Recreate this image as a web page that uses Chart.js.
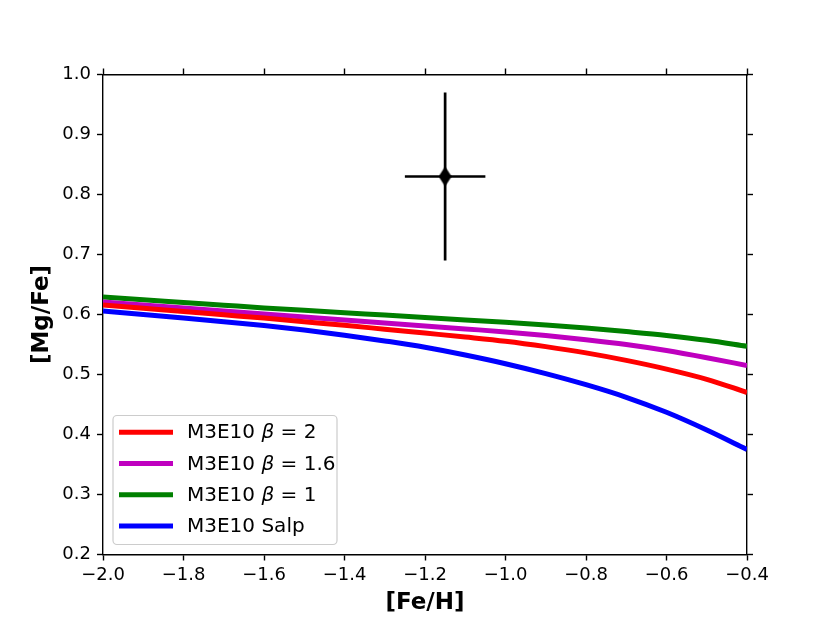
<!DOCTYPE html>
<html>
<head>
<meta charset="utf-8">
<title>[Mg/Fe] vs [Fe/H]</title>
<script src="https://cdn.jsdelivr.net/npm/chart.js@4.4.1/dist/chart.umd.min.js"></script>
<style>
  html, body { margin: 0; padding: 0; background: #fff; }
  canvas { display: block; }
</style>
</head>
<body>
<canvas id="mgfe" width="830" height="623"></canvas>
<script>
// [Fe/H] grid shared by the four model tracks
var feH = [-2.0, -1.9, -1.8, -1.7, -1.6, -1.5, -1.4, -1.3, -1.2, -1.1, -1.0, -0.9, -0.8, -0.7, -0.6, -0.5, -0.4];

// [Mg/Fe] of each model
var beta2  = [0.616, 0.6105, 0.605, 0.5995, 0.594, 0.588, 0.582, 0.5755, 0.569, 0.5625, 0.5555, 0.5465, 0.536, 0.5235, 0.509, 0.492, 0.470];
var beta16 = [0.621, 0.616, 0.611, 0.606, 0.601, 0.596, 0.591, 0.586, 0.581, 0.576, 0.571, 0.565, 0.558, 0.550, 0.540, 0.528, 0.515];
var beta1  = [0.629, 0.6245, 0.620, 0.6155, 0.611, 0.607, 0.603, 0.599, 0.595, 0.591, 0.587, 0.5825, 0.5775, 0.5715, 0.565, 0.557, 0.547];
var salp   = [0.606, 0.600, 0.594, 0.588, 0.5815, 0.574, 0.5655, 0.556, 0.5455, 0.5325, 0.518, 0.5015, 0.483, 0.462, 0.437, 0.4075, 0.375];

var seriesLabels = ['M3E10 \u03b2 = 2', 'M3E10 \u03b2 = 1.6', 'M3E10 \u03b2 = 1', 'M3E10 Salp'];

// observed value with its error bars
var obsFeH = -1.15, obsFeHErr = 0.10;
var obsMgFe = 0.83, obsMgFeErr = 0.14;

// axis ticks
var xTicks = [-2.0, -1.8, -1.6, -1.4, -1.2, -1.0, -0.8, -0.6, -0.4];
var yTicks = [0.2, 0.3, 0.4, 0.5, 0.6, 0.7, 0.8, 0.9, 1.0];

var FONT = 'DejaVu Sans';

function toPoints(xs, ys) {
    return xs.map(function(x, i) { return {x: x, y: ys[i]}; });
}

function fmt(v) {
    return Number(v).toFixed(1).replace('-', '\u2212');
}

// matplotlib style thin diamond marker
function thinDiamond(w, h) {
    var c = document.createElement('canvas');
    c.width = w; c.height = h;
    var g = c.getContext('2d');
    g.fillStyle = '#000';
    g.beginPath();
    g.moveTo(w / 2, 0);
    g.lineTo(w, h / 2);
    g.lineTo(w / 2, h);
    g.lineTo(0, h / 2);
    g.closePath();
    g.fill();
    return c;
}

function curve(label, ys, color) {
    return {
        label: label,
        data: toPoints(feH, ys),
        showLine: true,
        borderColor: color,
        backgroundColor: color,
        borderWidth: 5,
        pointRadius: 0,
        tension: 0.4,
        cubicInterpolationMode: 'monotone'
    };
}

function errLine(points) {
    return {
        data: points,
        showLine: true,
        borderColor: '#000',
        borderWidth: 2.7,
        pointRadius: 0,
        tension: 0
    };
}

// legend label with the greek beta set in italic, as mathtext does
function drawLabel(ctx, text, x, y) {
    var parts = text.split('\u03b2');
    var normal = '20px "' + FONT + '"', italic = 'italic 20px "' + FONT + '"';
    parts.forEach(function(p, i) {
        if (i > 0) {
            ctx.font = italic;
            ctx.fillText('\u03b2', x, y);
            x += ctx.measureText('\u03b2').width;
        }
        ctx.font = normal;
        ctx.fillText(p, x, y);
        x += ctx.measureText(p).width;
    });
}

// legend drawn inside the axes, lower left, like matplotlib's loc='lower left'
var insetLegend = {
    id: 'insetLegend',
    afterDatasetsDraw: function(chart) {
        var ctx = chart.ctx, area = chart.chartArea;
        var items = chart.data.datasets.filter(function(d) { return d.label; });
        var w = 224, h = 129;
        var x0 = area.left + 10, y0 = area.bottom - 10 - h;
        ctx.save();
        ctx.beginPath();
        ctx.roundRect(x0, y0, w, h, 4);
        ctx.fillStyle = 'rgba(255,255,255,0.8)';
        ctx.fill();
        ctx.strokeStyle = '#cccccc';
        ctx.lineWidth = 1.2;
        ctx.stroke();
        ctx.textBaseline = 'middle';
        ctx.fillStyle = '#000';
        items.forEach(function(d, i) {
            var yy = y0 + 16.7 + i * 31.3;
            ctx.beginPath();
            ctx.moveTo(x0 + 6, yy);
            ctx.lineTo(x0 + 60, yy);
            ctx.strokeStyle = d.borderColor;
            ctx.lineWidth = 5;
            ctx.stroke();
            drawLabel(ctx, d.label, x0 + 74, yy + 1);
        });
        ctx.restore();
    }
};

function tickGrid() {
    return {drawOnChartArea: false, drawTicks: true, tickLength: 6, tickWidth: 1.4, tickColor: '#000'};
}

function setTicks(list) {
    return function(scale) { scale.ticks = list.map(function(v) { return {value: v}; }); };
}

var ctx = document.getElementById('mgfe').getContext('2d');
new Chart(ctx, {
    type: 'scatter',
    data: {
        datasets: [
            errLine([{x: obsFeH, y: obsMgFe - obsMgFeErr}, {x: obsFeH, y: obsMgFe + obsMgFeErr}]),
            errLine([{x: obsFeH - obsFeHErr, y: obsMgFe}, {x: obsFeH + obsFeHErr, y: obsMgFe}]),
            {
                data: [{x: obsFeH, y: obsMgFe}],
                pointStyle: thinDiamond(13, 20),
                pointRadius: 10
            },
            curve(seriesLabels[0], beta2, '#ff0000'),
            curve(seriesLabels[1], beta16, '#bf00bf'),
            curve(seriesLabels[2], beta1, '#008000'),
            curve(seriesLabels[3], salp, '#0000ff')
        ]
    },
    options: {
        responsive: false,
        animation: false,
        devicePixelRatio: 1,
        layout: {padding: 0},
        plugins: {
            legend: {display: false},
            tooltip: {enabled: false}
        },
        scales: {
            x: {
                type: 'linear', position: 'bottom', min: -2.0, max: -0.4,
                afterBuildTicks: setTicks(xTicks),
                afterFit: function(s) { s.height = 68.5; },
                ticks: {callback: fmt, color: '#000', font: {family: FONT, size: 18}, padding: 4, maxRotation: 0, autoSkip: false},
                grid: tickGrid(),
                border: {color: '#000', width: 1.4},
                title: {display: true, text: '[Fe/H]', color: '#000',
                        font: {family: FONT, size: 23, weight: 'bold', lineHeight: 1},
                        padding: {top: 0, bottom: 8.5}}
            },
            x2: {
                type: 'linear', position: 'top', min: -2.0, max: -0.4,
                afterBuildTicks: setTicks(xTicks),
                afterFit: function(s) { s.height = 74.5; },
                ticks: {display: false},
                grid: tickGrid(),
                border: {color: '#000', width: 1.4}
            },
            y: {
                type: 'linear', position: 'left', min: 0.2, max: 1.0,
                afterBuildTicks: setTicks(yTicks),
                afterFit: function(s) { s.width = 103; },
                ticks: {callback: fmt, color: '#000', font: {family: FONT, size: 18}, padding: 6, autoSkip: false},
                grid: tickGrid(),
                border: {color: '#000', width: 1.4},
                title: {display: true, text: '[Mg/Fe]', color: '#000',
                        font: {family: FONT, size: 23, weight: 'bold', lineHeight: 1},
                        padding: {top: 31, bottom: 0}}
            },
            y2: {
                type: 'linear', position: 'right', min: 0.2, max: 1.0,
                afterBuildTicks: setTicks(yTicks),
                afterFit: function(s) { s.width = 83; },
                ticks: {display: false},
                grid: tickGrid(),
                border: {color: '#000', width: 1.4}
            }
        }
    },
    plugins: [insetLegend]
});
</script>
</body>
</html>
